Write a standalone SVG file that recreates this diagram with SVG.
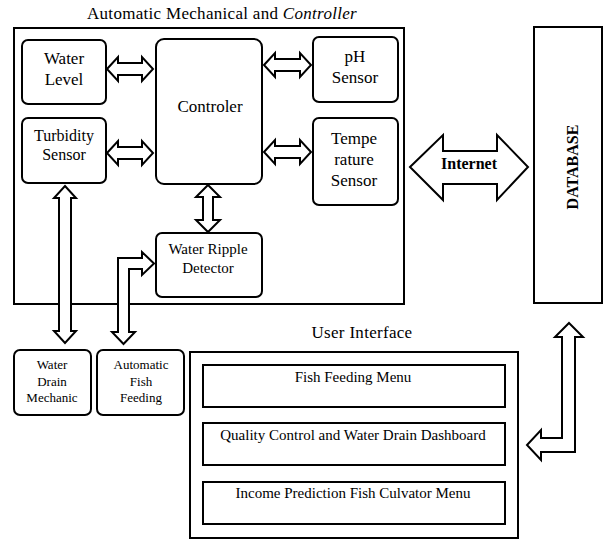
<svg xmlns="http://www.w3.org/2000/svg" width="603" height="540" viewBox="0 0 603 540" font-family="'Liberation Serif', 'DejaVu Serif', serif">
<style>
.box{fill:#fff;stroke:#000;stroke-width:2}
.rbox{fill:#fff;stroke:#000;stroke-width:2}
.arr{fill:#fff;stroke:#000;stroke-width:2;stroke-linejoin:miter}
text{font-family:'Liberation Serif','DejaVu Serif',serif;fill:#000;text-anchor:middle}
.t17{font-size:17px}
.t16{font-size:16px}
.t15{font-size:15px}
.t13{font-size:13px}
.b{font-weight:bold}
</style>
<rect width="603" height="540" fill="#fff"/>
<g id="title"><text x="222" y="19" class="t17" letter-spacing="0.3">Automatic Mechanical and <tspan font-style="italic">Controller</tspan></text></g>
<g id="controller-frame"><rect class="box" x="14" y="28" width="390" height="276"/></g>
<g id="water-level"><rect class="rbox" x="22" y="40" width="84" height="64" rx="6"/><text class="t17" x="64" y="64">Water</text><text class="t17" x="64" y="85">Level</text></g>
<g id="turbidity"><rect class="rbox" x="22" y="118" width="84" height="65" rx="6"/><text class="t16" x="64" y="141">Turbidity</text><text class="t16" x="64" y="160">Sensor</text></g>
<g id="controler"><rect class="rbox" x="156" y="39" width="106" height="145" rx="8"/><text class="t17" x="210" y="112">Controler</text></g>
<g id="ph"><rect class="rbox" x="313" y="37" width="85" height="65" rx="6"/><text class="t17" x="355" y="62">pH</text><text class="t17" x="355" y="83">Sensor</text></g>
<g id="temperature"><rect class="rbox" x="313" y="118" width="85" height="87" rx="6"/><text class="t17" x="354" y="144">Tempe</text><text class="t17" x="354" y="165">rature</text><text class="t17" x="354" y="186">Sensor</text></g>
<g id="ripple"><rect class="rbox" x="156" y="233" width="106" height="64" rx="6"/><text class="t15" x="208" y="254">Water Ripple</text><text class="t15" x="208" y="273">Detector</text></g>
<g id="water-drain"><rect class="rbox" x="14" y="350" width="77" height="65" rx="6"/><text class="t13" x="52" y="369">Water</text><text class="t13" x="52" y="386">Drain</text><text class="t13" x="52" y="402">Mechanic</text></g>
<g id="fish-feeding"><rect class="rbox" x="97" y="350" width="87" height="65" rx="6"/><text class="t13" x="141" y="369">Automatic</text><text class="t13" x="141" y="386">Fish</text><text class="t13" x="141" y="402">Feeding</text></g>
<g id="database"><rect class="box" x="534" y="27" width="68" height="276"/><text class="t16 b" transform="translate(578,167) rotate(-90)" x="0" y="0">DATABASE</text></g>
<g id="ui-title"><text class="t17" x="362" y="338" letter-spacing="0.3">User Interface</text></g>
<g id="user-interface"><rect class="box" x="190" y="352" width="328" height="186"/>
<rect class="box" x="203" y="365" width="302" height="42"/><text class="t15" x="353" y="382">Fish Feeding Menu</text>
<rect class="box" x="203" y="423" width="302" height="42"/><text class="t15" x="353" y="440">Quality Control and Water Drain Dashboard</text>
<rect class="box" x="203" y="482" width="302" height="42"/><text class="t15" x="353" y="498">Income Prediction Fish Culvator Menu</text></g>
<g id="connectors">
<polygon class="arr" points="107,69 118,57 118,63 142,63 142,57 153,69 142,81 142,75 118,75 118,81"/>
<polygon class="arr" points="107,153 118,141 118,147 142,147 142,141 153,153 142,165 142,159 118,159 118,165"/>
<polygon class="arr" points="264,65 275,53 275,59 300,59 300,53 311,65 300,77 300,71 275,71 275,77"/>
<polygon class="arr" points="264,152 275,140 275,146 300,146 300,140 311,152 300,164 300,158 275,158 275,164"/>
<polygon class="arr" points="208,185 220,197 213,197 213,220 220,220 208,232 196,220 203,220 203,197 196,197"/>
<polygon class="arr" points="65,186 76,198 71,198 71,331 76,331 65,343 54,331 59,331 59,198 54,198"/>
<polygon class="arr" points="154,263.5 142,252 142,258 118,258 118,332 112,332 123.5,344 135,332 129,332 129,269 142,269 142,275"/>
<polygon class="arr" points="569,323 583,337 575,337 575,452 541,452 541,460 527,445 541,430 541,438 562,438 562,337 555,337"/>
<polygon class="arr" points="410,167 443,135 443,151 497,151 497,135 528,167 497,200 497,184 443,184 443,200"/>
<text class="t16 b" x="469" y="169">Internet</text>
</g>
</svg>
